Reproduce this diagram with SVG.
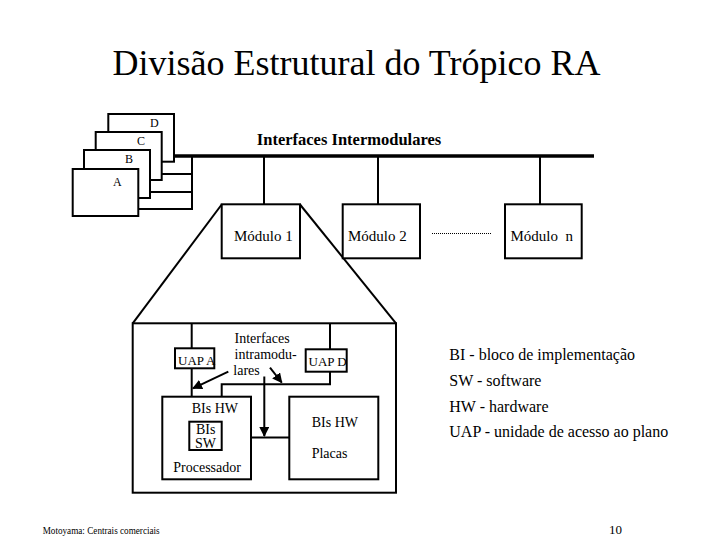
<svg xmlns="http://www.w3.org/2000/svg" width="720" height="540" viewBox="0 0 720 540">
<defs>
<style>
text{font-family:'Liberation Serif','DejaVu Serif',serif;fill:#000}
.b{fill:#fff;stroke:#000;stroke-width:2}
.l{fill:none;stroke:#000;stroke-width:2}
.t14{font-size:14px}
.t15{font-size:15px}
.t16{font-size:16px}
</style>
<marker id="ah" viewBox="0 0 10 10" refX="9" refY="5" markerWidth="5" markerHeight="5" orient="auto" markerUnits="strokeWidth">
<path d="M0,0 L10,5 L0,10 z" fill="#000"/>
</marker>
</defs>
<rect width="720" height="540" fill="#fff"/>
<g font-family="'Liberation Serif', 'DejaVu Serif', serif">
<text x="356.5" y="75" font-size="36" text-anchor="middle">Divisão Estrutural do Trópico RA</text>

<g id="connectors">
<line x1="174" y1="156" x2="594" y2="156" stroke="#000" stroke-width="3.5"/>
<polyline class="l" points="161.7,174 192,174 192,156"/>
<polyline class="l" points="150,192 192,192"/>
<polyline class="l" points="138,209 192,209 192,174"/>
<line class="l" x1="264" y1="156" x2="264" y2="204"/>
<line class="l" x1="378" y1="156" x2="378" y2="204"/>
<line class="l" x1="540" y1="156" x2="540" y2="204"/>
<line x1="432" y1="233.5" x2="491" y2="233.5" stroke="#000" stroke-width="1.2" stroke-dasharray="1,1"/>
<line class="l" x1="221.7" y1="204.5" x2="132.7" y2="323.3"/>
<line class="l" x1="300" y1="204.5" x2="396" y2="323.3"/>
<line class="l" x1="191.7" y1="323.3" x2="191.7" y2="348.3"/>
<line class="l" x1="191.7" y1="368.3" x2="191.7" y2="396.7"/>
<line class="l" x1="330" y1="323.3" x2="330" y2="349.3"/>
<polyline class="l" points="330,371.7 330,384.3 221.7,384.3 221.7,396.7"/>
<line class="l" x1="251" y1="437.5" x2="289.3" y2="437.5"/>
<line class="l" x1="264.3" y1="376.5" x2="264.3" y2="436" marker-end="url(#ah)"/>
<line class="l" x1="228.3" y1="371.7" x2="193" y2="388.3" marker-end="url(#ah)"/>
<line class="l" x1="270" y1="367.7" x2="281.7" y2="382.5" marker-end="url(#ah)"/>
</g>

<g id="plan-D"><rect class="b" x="108.3" y="114" width="65.7" height="47.7"/><text x="150" y="127" font-size="12">D</text></g>
<g id="plan-C"><rect class="b" x="95.7" y="132" width="66" height="48"/><text x="137" y="145" font-size="12">C</text></g>
<g id="plan-B"><rect class="b" x="84" y="150" width="66" height="48"/><text x="125" y="163" font-size="12">B</text></g>
<g id="plan-A"><rect class="b" x="72.7" y="169" width="65.6" height="47"/><text x="113" y="186" font-size="12">A</text></g>

<text x="349" y="145" font-size="16.5" font-weight="bold" text-anchor="middle">Interfaces Intermodulares</text>

<g id="modulo-1"><rect class="b" x="221.7" y="204.3" width="78.3" height="54"/><text class="t15" x="234" y="240.7">Módulo 1</text></g>
<g id="modulo-2"><rect class="b" x="342.7" y="204.3" width="77.3" height="54"/><text class="t15" x="348" y="240.7">Módulo 2</text></g>
<g id="modulo-n"><rect class="b" x="505" y="204.3" width="76.7" height="54"/><text class="t15" x="510.5" y="240.7" xml:space="preserve">Módulo  n</text></g>

<g id="modulo-detalhe"><rect class="l" x="132.7" y="323.3" width="263.3" height="169.4"/></g>

<g id="uap-a"><rect class="b" x="175" y="348.3" width="39.3" height="20"/><text x="178" y="364.5" font-size="13">UAP A</text></g>
<g id="uap-d"><rect class="b" x="305.7" y="349.3" width="41" height="22.4"/><text x="308.5" y="366" font-size="13">UAP D</text></g>

<g id="interfaces-intra"><text class="t14" x="234.5" y="343.3">Interfaces</text><text class="t14" x="234.5" y="359.3">intramodu-</text><text class="t14" x="233.3" y="375">lares</text></g>

<g id="processador"><rect class="b" x="162.3" y="396.7" width="88.7" height="82.6"/><text class="t14" x="191.7" y="413.3">BIs HW</text><text class="t14" x="173.3" y="471.7">Processador</text></g>
<g id="bis-sw"><rect class="b" x="189.3" y="421.7" width="32.4" height="28.3"/><text class="t14" x="196" y="434">BIs</text><text class="t14" x="195" y="447.5">SW</text></g>
<g id="placas"><rect class="b" x="289.3" y="396.7" width="89" height="82.6"/><text class="t14" x="311.7" y="426.7">BIs HW</text><text class="t14" x="311.7" y="458.3">Placas</text></g>

<g id="legenda">
<text class="t16" x="449.3" y="360">BI - bloco de implementação</text>
<text class="t16" x="449.3" y="385.5">SW - software</text>
<text class="t16" x="449.3" y="411.5">HW - hardware</text>
<text class="t16" x="449.3" y="437">UAP - unidade de acesso ao plano</text>
</g>

<text x="42.7" y="534" font-size="9.5" textLength="117" lengthAdjust="spacingAndGlyphs">Motoyama: Centrais comerciais</text>
<text x="609" y="534" font-size="13">10</text>
</g>
</svg>
